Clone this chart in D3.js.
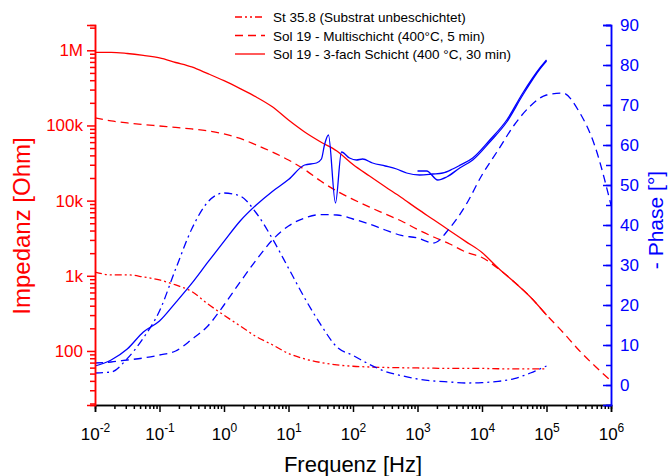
<!DOCTYPE html>
<html>
<head>
<meta charset="utf-8">
<script src="https://cdn.jsdelivr.net/npm/d3@7/dist/d3.min.js"></script>
<style>
  html, body { margin: 0; padding: 0; background: #fff; }
  svg { display: block; font-family: "Liberation Sans", Arial, sans-serif; }
</style>
</head>
<body>
<svg id="chart" width="669" height="476"></svg>
<script>
// Frequency grid (Hz), quarter-decade steps from 10^-2 to 10^6
const freqGrid = [0.01, 0.0178, 0.0316, 0.0562, 0.1, 0.178, 0.316, 0.562,
  1, 1.78, 3.16, 5.62, 10, 17.8, 31.6, 56.2, 100, 178, 316, 562,
  1000, 1780, 3160, 5620, 10000, 17800, 31600, 56200, 100000,
  178000, 316000, 562000, 1000000];

// |Z| in Ohm
const zSubstrat = [1120, 1030, 1030, 965, 880, 755, 618, 422, 299, 215, 155, 121, 92.6,
  78.3, 70.3, 65.2, 62.6, 61.2, 60.3, 59.8, 59.4, 59.0, 58.5, 58.5, 58.5, 58.0, 57.6, 57.6, 57.6];
const zMulti = [126000, 115000, 108000, 103000, 98400, 94000, 89800, 84500, 77100, 67100,
  55000, 44400, 34700, 25900, 18200, 13400, 10400, 8240, 6640, 5360, 4130, 3280, 2650,
  2070, 1750, 1250, 828, 523, 301, 179, 103, 63.1, 39.9];
const zTriple = [940000, 940000, 906000, 853000, 790000, 688000, 600000, 489000, 394000,
  309000, 239000, 177000, 118000, 81900, 60300, 45700, 30300, 21400, 15300, 11000, 7760,
  5560, 3980, 2850, 2040, 1270, 828, 523, 301];

// -Phase in degrees
const phaseSubstrat = [3.0, 3.25, 6.6, 11.75, 18.5, 29.0, 39.0, 45.75, 48.0, 47.25, 43.0,
  36.6, 29.2, 21.75, 15.1, 9.5, 7.4, 5.2, 3.4, 2.35, 1.5, 1.0, 0.75, 0.5, 0.6, 0.9, 1.6, 3.0, 4.75];
const phaseMulti = [5.5, 5.75, 6.25, 6.75, 7.5, 8.5, 11.4, 14.75, 20.0, 25.75, 31.25, 36.25,
  39.75, 41.75, 42.6, 42.5, 41.5, 40.25, 38.75, 37.4, 36.75, 35.5, 39.25, 45.0, 52.5, 58.75,
  65.0, 69.75, 72.5, 73.0, 68.5, 59.75, 45.0];
const phaseTripleFreq = [0.01, 0.0178, 0.0316, 0.0562, 0.1, 0.178, 0.316, 0.562, 1, 1.78,
  3.16, 5.62, 10, 17.8, 27.1, 32.4, 36.1, 41.6, 53.5, 66.3, 88.3, 113, 141, 201, 316, 474,
  678, 1080, 1720, 2460, 3510, 4510, 7180, 13200, 24200, 42900, 78900, 100000];
const phaseTriple = [4.75, 6.25, 9.0, 13.25, 16.0, 20.6, 25.4, 30.7, 35.9, 41.0, 45.0, 48.4,
  51.35, 55.0, 55.5, 56.5, 60.0, 62.5, 45.5, 58.25, 56.75, 56.25, 56.5, 55.5, 54.75, 54.0,
  53.0, 52.5, 52.75, 53.0, 54.0, 54.9, 56.75, 61.25, 66.25, 73.0, 79.25, 81.25];
// second sweep of the 3-fach sample, upper frequency range
const phaseTripleSweep2Freq = [1000, 1390, 2060, 2830, 4510, 7180, 13200, 24200, 42900, 78900, 100000];
const phaseTripleSweep2 = [53.5, 53.5, 51.25, 52.0, 54.25, 56.25, 60.75, 65.75, 72.5, 79.0, 81.0];

// Axis ticks and labels
const xTickExponents = [-2, -1, 0, 1, 2, 3, 4, 5, 6];
const zTickValues = [100, 1000, 10000, 100000, 1000000];
const zTickLabels = ["100", "1k", "10k", "100k", "1M"];
const phaseTickValues = [0, 10, 20, 30, 40, 50, 60, 70, 80, 90];

const legendLabels = [
  "St 35.8 (Substrat unbeschichtet)",
  "Sol 19 - Multischicht (400°C, 5 min)",
  "Sol 19 - 3-fach Schicht (400 °C, 30 min)"
];

const RED = "#ff0000", BLUE = "#0000ff";
const DASH = "8,5", DASHDOT = "8,4,2,4", DASHDOTDOT = "7,3,2,3,2,3";
const FONT = "Liberation Sans, Arial, sans-serif";

const svg = d3.select("#chart");
const plotLeft = 95, plotRight = 611, plotTop = 25, plotBottom = 405;

const x = d3.scaleLog().domain([0.01, 1e6]).range([plotLeft, plotRight]);
const yZ = d3.scaleLog().domain([19.1, 2.17e6]).range([plotBottom, plotTop]);
const yP = d3.scaleLinear().domain([-5, 90]).range([plotBottom, plotTop]);

// minor tick positions for log axes
function logMinors(lo, hi) {
  const out = [];
  for (let e = Math.floor(Math.log10(lo)); e <= Math.ceil(Math.log10(hi)); e++) {
    for (let m = 2; m <= 9; m++) {
      const v = m * Math.pow(10, e);
      if (v >= lo && v <= hi) out.push(v);
    }
  }
  return out;
}

// ---- curves ----
const plot = svg.append("g").attr("fill", "none").attr("stroke-width", 1.3);

function drawSeries(freqs, vals, yScale, color, dash) {
  const pts = vals.map((v, i) => [freqs[i], v]);
  const line = d3.line().x(d => x(d[0])).y(d => yScale(d[1])).curve(d3.curveMonotoneX);
  plot.append("path").datum(pts).attr("d", line)
    .attr("stroke", color).attr("stroke-dasharray", dash || null);
}

drawSeries(freqGrid, zSubstrat, yZ, RED, DASHDOTDOT);
drawSeries(freqGrid, zMulti, yZ, RED, DASH);
drawSeries(freqGrid, zTriple, yZ, RED, null);

drawSeries(freqGrid, phaseSubstrat, yP, BLUE, DASHDOT);
drawSeries(freqGrid, phaseMulti, yP, BLUE, DASH);
drawSeries(phaseTripleFreq, phaseTriple, yP, BLUE, null);
drawSeries(phaseTripleSweep2Freq, phaseTripleSweep2, yP, BLUE, null);

// ---- axes ----
const fontSize = 17;

// bottom frequency axis
const gx = svg.append("g").attr("transform", `translate(0,${plotBottom})`);
gx.call(d3.axisBottom(x).tickValues(logMinors(0.01, 1e6)).tickSize(4).tickFormat(""));
const gxMajor = gx.append("g");
gxMajor.call(d3.axisBottom(x).tickValues(xTickExponents.map(e => Math.pow(10, e)))
  .tickSize(7).tickFormat(""));
gx.selectAll("path, line").attr("stroke", "#000").attr("stroke-width", 1.5);
gxMajor.selectAll(".tick text").remove();
gxMajor.selectAll(".tick").each(function (d, i) {
  const t = d3.select(this).append("text")
    .attr("y", 35).attr("fill", "#000").attr("font-size", fontSize)
    .attr("text-anchor", "middle").attr("font-family", FONT);
  t.append("tspan").text("10");
  t.append("tspan").attr("dy", -8).attr("font-size", 12).text(xTickExponents[i]);
});

// left impedance axis
const gz = svg.append("g").attr("transform", `translate(${plotLeft},0)`);
gz.call(d3.axisLeft(yZ).tickValues(logMinors(19.1, 2.17e6)).tickSize(5).tickFormat(""));
const gzMajor = gz.append("g");
gzMajor.call(d3.axisLeft(yZ).tickValues(zTickValues).tickSize(8).tickPadding(4)
  .tickFormat((d, i) => zTickLabels[i]));
gz.selectAll("path, line").attr("stroke", RED).attr("stroke-width", 1.5);
gz.selectAll(".tick text").attr("fill", RED).attr("font-size", fontSize)
  .attr("font-family", FONT);

// right phase axis, ticks pointing into the plot
const gp = svg.append("g").attr("transform", `translate(${plotRight},0)`);
gp.call(d3.axisRight(yP).tickValues(d3.range(-5, 91, 5)).tickSize(-5).tickFormat(""));
const gpMajor = gp.append("g");
gpMajor.call(d3.axisRight(yP).tickValues(phaseTickValues).tickSize(-8).tickPadding(9)
  .tickFormat(d3.format("d")));
gp.selectAll("path, line").attr("stroke", BLUE).attr("stroke-width", 1.5);
gp.selectAll(".tick text").attr("fill", BLUE).attr("font-size", fontSize)
  .attr("font-family", FONT);

// ---- axis titles ----
svg.append("text").attr("x", (plotLeft + plotRight) / 2).attr("y", 472)
  .attr("text-anchor", "middle").attr("font-size", 22).attr("fill", "#000")
  .text("Frequenz [Hz]");
svg.append("text").attr("transform", "translate(30,226) rotate(-90)")
  .attr("text-anchor", "middle").attr("font-size", 24).attr("fill", RED)
  .text("Impedanz [Ohm]");
svg.append("text").attr("transform", "translate(663,220) rotate(-90)")
  .attr("text-anchor", "middle").attr("font-size", 21).attr("fill", BLUE)
  .text("- Phase [°]");

// ---- legend ----
const legendDashes = [DASHDOTDOT, DASH, null];
const lg = svg.append("g");
legendLabels.forEach((label, i) => {
  const yy = 17 + i * 18.5;
  lg.append("line").attr("x1", 235).attr("x2", 265).attr("y1", yy).attr("y2", yy)
    .attr("stroke", RED).attr("stroke-width", 1.3)
    .attr("stroke-dasharray", legendDashes[i]);
  lg.append("text").attr("x", 273).attr("y", yy + 5).attr("font-size", 13.5)
    .attr("fill", "#000").text(label);
});
</script>
</body>
</html>
